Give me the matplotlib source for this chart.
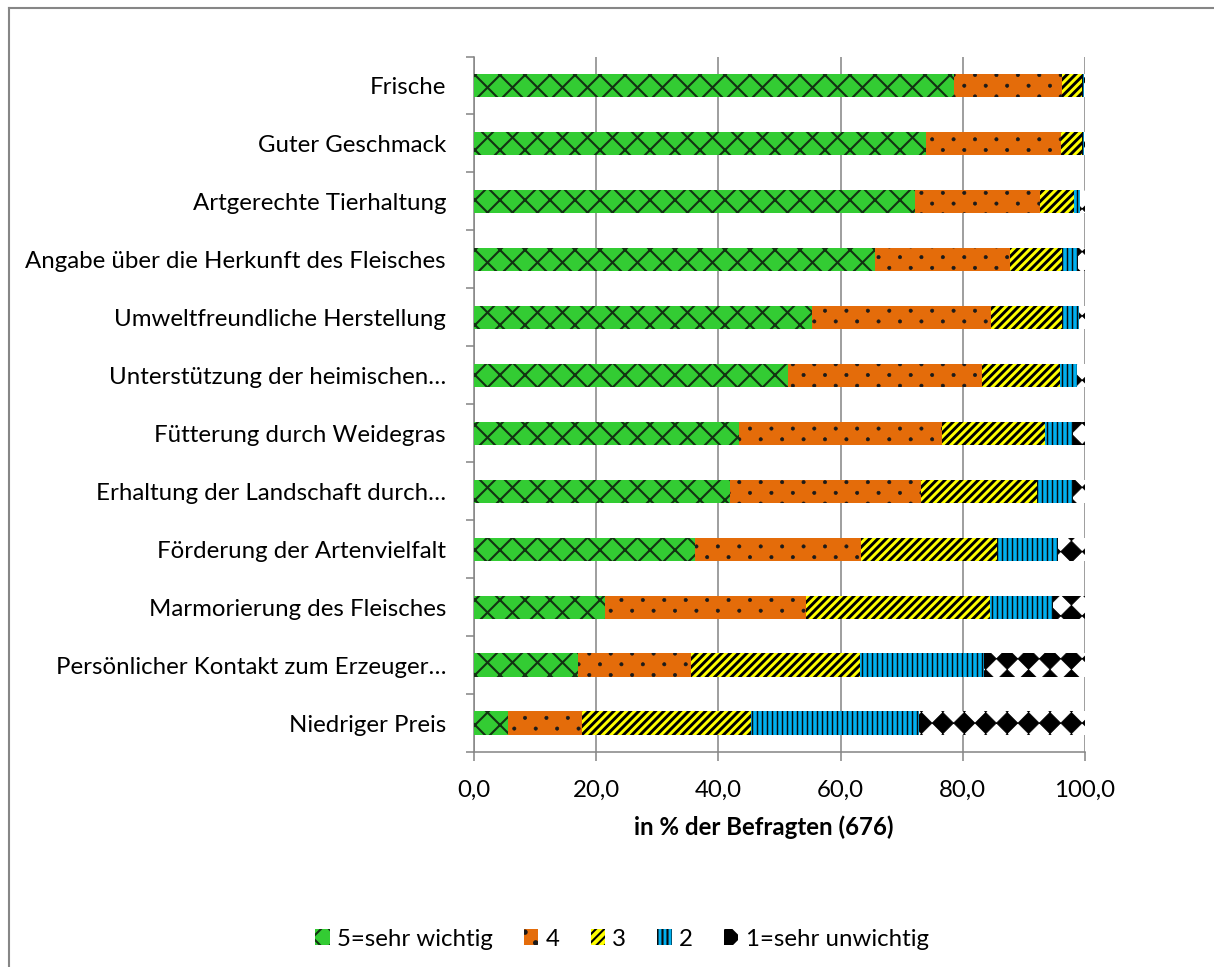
import numpy as np
import matplotlib
matplotlib.use("Agg")
import matplotlib.pyplot as plt
import matplotlib.hatch as mhatch
from matplotlib.path import Path
from matplotlib.lines import Line2D

# ---------------------------------------------------------------- data
categories = [
    "Frische",
    "Guter Geschmack",
    "Artgerechte Tierhaltung",
    "Angabe über die Herkunft des Fleisches",
    "Umweltfreundliche Herstellung",
    "Unterstützung der heimischen…",
    "Fütterung durch Weidegras",
    "Erhaltung der Landschaft durch…",
    "Förderung der Artenvielfalt",
    "Marmorierung des Fleisches",
    "Persönlicher Kontakt zum Erzeuger…",
    "Niedriger Preis",
]

series_names = ["5=sehr wichtig", "4", "3", "2", "1=sehr unwichtig"]

sehr_wichtig = [78.5, 74.0, 72.1, 65.7, 55.4, 51.4, 43.4, 41.9, 36.1, 21.4, 17.0, 5.5]
wichtig_4 = [17.8, 22.0, 20.6, 22.1, 29.2, 31.8, 33.2, 31.2, 27.2, 32.9, 18.5, 12.1]
mittel_3 = [3.2, 3.5, 5.5, 8.5, 11.7, 12.7, 16.8, 19.1, 22.3, 30.2, 27.7, 27.7]
wenig_2 = [0.3, 0.3, 1.0, 2.6, 2.7, 2.8, 4.7, 5.9, 9.9, 10.2, 20.2, 27.6]
sehr_unwichtig = [0.2, 0.2, 0.8, 1.1, 1.0, 1.3, 1.9, 1.9, 4.5, 5.3, 16.6, 27.1]

x_ticks = [0, 20, 40, 60, 80, 100]
x_title = "in % der Befragten (676)"


# ------------------------------------------------------- fill patterns
class StaggeredDots(mhatch.HatchPatternBase):
    """'.' -> small round dots, rows half a column apart and shifted."""
    cols = 7
    radius = 0.011

    def __init__(self, hatch, density):
        circle = Path.unit_circle()
        self.shape_vertices = circle.vertices
        self.shape_codes = circle.codes
        if "." in hatch:
            n = self.cols
            self.num_vertices = (2 * n + 1) * (n + 1) * len(self.shape_vertices)
        else:
            self.num_vertices = 0

    def set_vertices_and_codes(self, vertices, codes):
        n = self.cols
        verts, cds = [], []
        for r in range(2 * n + 1):
            y = r / (2 * n)
            shift = 0.0 if r % 2 == 0 else 0.5 / n
            for c in range(n + 1):
                verts.append(self.shape_vertices * self.radius + [c / n + shift, y])
                cds.append(self.shape_codes)
        np.concatenate(verts, out=vertices)
        np.concatenate(cds, out=codes)


class DiamondChecker(mhatch.HatchPatternBase):
    """'*' -> filled diamonds touching tip to tip (diagonal checkerboard)."""
    cells = 7
    phase = 0.0367

    def __init__(self, hatch, density):
        n = self.cells
        self.num_vertices = (n + 2) * (n + 1) * 5 if "*" in hatch else 0

    def set_vertices_and_codes(self, vertices, codes):
        n = self.cells
        h = 0.5 / n
        diamond = np.array([[0, -h], [h, 0], [0, h], [-h, 0], [0, -h]])
        dcodes = np.array([Path.MOVETO, Path.LINETO, Path.LINETO,
                           Path.LINETO, Path.CLOSEPOLY], dtype=Path.code_type)
        verts, cds = [], []
        for i in range(n + 1):
            for j in range(-1, n + 1):
                verts.append(diamond + [i / n, j / n + self.phase])
                cds.append(dcodes)
        np.concatenate(verts, out=vertices)
        np.concatenate(cds, out=codes)


mhatch._hatch_types = [
    mhatch.HorizontalHatch,
    mhatch.VerticalHatch,
    mhatch.NorthEastHatch,
    mhatch.SouthEastHatch,
    mhatch.SmallCircles,
    mhatch.LargeCircles,
    StaggeredDots,
    DiamondChecker,
]

# face colour, hatch, hatch colour, hatch line width (pt)
styles = [
    ("#33CC33", "xx", "#123312", 1.0),
    ("#E46C0A", ".", "#1a1a1a", 0.3),
    ("#FFFF00", "//////", "#000000", 1.4),
    ("#00B0F0", "|||||", "#0a0a0a", 0.7),
    ("#FFFFFF", "*", "#000000", 0.3),
]

# ---------------------------------------------------------------- figure
plt.rcParams["font.family"] = ["Lato", "DejaVu Sans"]
plt.rcParams["font.size"] = 11

DPI = 150
W, H = 1214, 967
fig = plt.figure(figsize=(W / DPI, H / DPI), dpi=DPI)
ax = fig.add_axes([474 / W, 1 - 752 / H, (1085 - 474) / W, (752 - 56.5) / H])

grey = "#868686"
values = [sehr_wichtig, wichtig_4, mittel_3, wenig_2, sehr_unwichtig]
ypos = np.arange(len(categories))
left = np.zeros(len(categories))
handles = []
for name, vals, (face, hatch, hcol, hlw) in zip(series_names, values, styles):
    with plt.rc_context({"hatch.linewidth": hlw}):
        bars = ax.barh(ypos, vals, left=left, height=0.4, color=face,
                       edgecolor=hcol, linewidth=0, hatch=hatch, label=name,
                       zorder=3)
    for b in bars:
        if hasattr(b, "set_hatch_linewidth"):
            b.set_hatch_linewidth(hlw)
    handles.append(bars)
    left = left + np.array(vals)

ax.set_xlim(0, 100)
ax.set_ylim(len(categories) - 0.5, -0.5)

# x axis
ax.set_xticks(x_ticks)
ax.set_xticklabels([f"{v:.1f}".replace(".", ",") for v in x_ticks])
ax.tick_params(axis="x", direction="out", length=4.3, width=0.75,
               color=grey, pad=9, labelsize=11.5)
ax.grid(axis="x", color=grey, linewidth=0.75, zorder=0)
ax.set_axisbelow(True)

# y axis: marks between categories, labels centred on the bars
ax.set_yticks(np.arange(len(categories) + 1) - 0.5)
ax.set_yticklabels([])
ax.set_yticks(ypos, minor=True)
ax.set_yticklabels(categories, minor=True)
ax.tick_params(axis="y", which="major", direction="out", length=3.8,
               width=0.75, color=grey)
ax.tick_params(axis="y", which="minor", length=0, pad=13.4, labelsize=11.5)

for side in ("top", "right"):
    ax.spines[side].set_visible(False)
for side in ("left", "bottom"):
    ax.spines[side].set_color(grey)
    ax.spines[side].set_linewidth(0.75)

ax.set_xlabel(x_title, fontweight="bold", fontsize=11.5)
ax.xaxis.set_label_coords((764 - 474) / (1085 - 474), (752 - 827) / (752 - 56.5))
ax.xaxis.label.set_va("center")

fig.legend(handles, series_names, loc="center",
           bbox_to_anchor=(622 / W, 1 - 939 / H), ncol=5, frameon=False,
           fontsize=11.5, handlelength=0.6, handleheight=0.6,
           handletextpad=0.3, columnspacing=1.3)

# chart frame
fig.add_artist(Line2D([9 / W, 1], [1 - 8 / H, 1 - 8 / H],
                      transform=fig.transFigure, color=grey, linewidth=1.0))
fig.add_artist(Line2D([9 / W, 9 / W], [0, 1 - 8 / H],
                      transform=fig.transFigure, color=grey, linewidth=1.0))

fig.savefig("out.png", dpi=DPI, facecolor="white")
